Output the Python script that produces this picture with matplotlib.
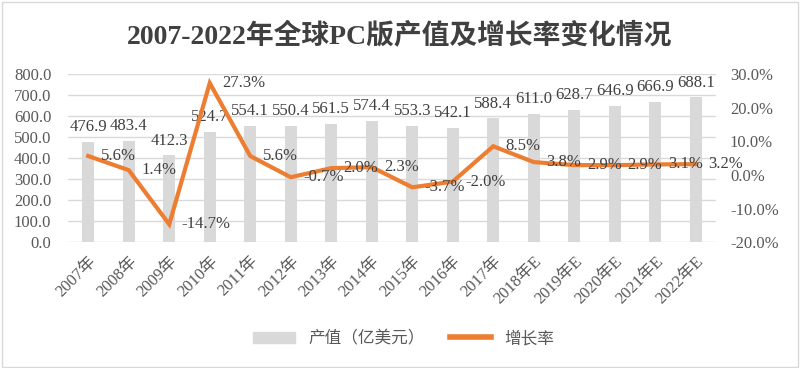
import matplotlib.pyplot as plt
from matplotlib.patches import Rectangle, Patch
from matplotlib.lines import Line2D

years = ["2007年", "2008年", "2009年", "2010年", "2011年", "2012年", "2013年", "2014年",
         "2015年", "2016年", "2017年", "2018年E", "2019年E", "2020年E", "2021年E", "2022年E"]
output = [476.9, 483.4, 412.3, 524.7, 554.1, 550.4, 561.5, 574.4,
          553.3, 542.1, 588.4, 611.0, 628.7, 646.9, 666.9, 688.1]
growth = [5.6, 1.4, -14.7, 27.3, 5.6, -0.7, 2.0, 2.3,
          -3.7, -2.0, 8.5, 3.8, 2.9, 2.9, 3.1, 3.2]

fonts = ["Liberation Serif", "Noto Sans CJK SC"]
txt = "#595959"
orange = "#ed7d31"
gray = "#d9d9d9"

fig = plt.figure(figsize=(8, 3.68), dpi=100)
ax = fig.add_axes([0.085, 0.342, 0.81, 0.457])
ax2 = ax.twinx()

x = list(range(len(years)))
ax.bar(x, output, width=0.3, color=gray, zorder=2)
for i, v in enumerate(output):
    ax.annotate(f"{v:.1f}", (i, v), xytext=(0, 5), textcoords="offset points",
                ha="center", va="bottom", fontsize=12, family=fonts, color="#404040")

ax2.plot(x, growth, color=orange, lw=3, zorder=3, solid_joinstyle="miter")
for i, v in enumerate(growth):
    ax2.annotate(f"{v:.1f}%", (i, v), xytext=(9, 0), textcoords="offset points",
                 ha="left", va="center", fontsize=12, family=fonts, color="#404040")

ax.set_xlim(-0.5, len(years) - 0.5)
ax.set_ylim(0, 800)
ax.set_yticks(range(0, 801, 100))
ax.set_yticklabels([f"{t:.1f}" for t in range(0, 801, 100)], family=fonts, fontsize=12, color=txt)
ax2.set_ylim(-20, 30)
ax2.set_yticks(range(-20, 31, 10))
ax2.set_yticklabels([f"{t:.1f}%" for t in range(-20, 31, 10)], family=fonts, fontsize=12, color=txt)
ax.set_xticks(x)
ax.set_xticklabels(years, rotation=45, ha="right", rotation_mode="anchor",
                   family=fonts, fontsize=12, color=txt)
ax.yaxis.grid(True, color=gray, lw=1, zorder=0)
ax.set_axisbelow(True)
for a in (ax, ax2):
    for s in a.spines.values():
        s.set_visible(False)
    a.tick_params(length=0)
ax.tick_params(axis="y", pad=12)
ax2.tick_params(axis="y", pad=10)
ax.tick_params(axis="x", pad=8)

fig.text(0.5, 0.9, "2007-2022年全球PC版产值及增长率变化情况", ha="center", va="center",
         fontsize=20, weight="bold", family=fonts, color="#404040")

handles = [Patch(color=gray), Line2D([], [], color=orange, lw=4)]
fig.legend(handles, ["产值（亿美元）", "增长率"], loc="center", bbox_to_anchor=(0.505, 0.078),
           ncol=2, frameon=False, prop={"family": fonts, "size": 12},
           handlelength=2.5, columnspacing=1.5, labelcolor=txt)

fig.add_artist(Rectangle((0.003, 0.003), 0.994, 0.992, transform=fig.transFigure,
                         fill=False, edgecolor=gray, lw=1))

fig.savefig("out.png", dpi=100)
